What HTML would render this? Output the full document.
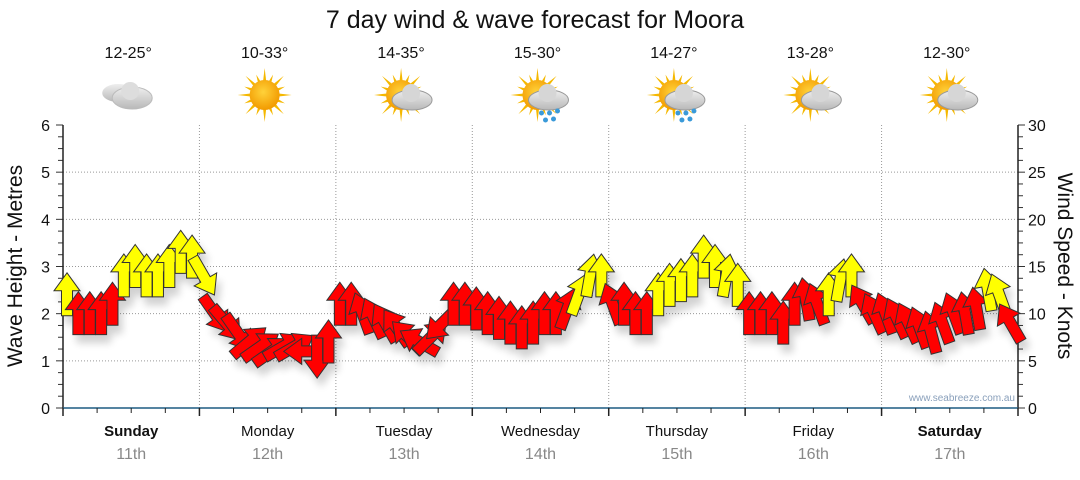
<!DOCTYPE html>
<html><head><meta charset="utf-8"><style>
body{margin:0;background:#fff;font-family:"Liberation Sans",sans-serif}
svg text{font-family:"Liberation Sans",sans-serif}
</style></head><body>
<svg id="chart" width="1080" height="475" xmlns="http://www.w3.org/2000/svg">
<defs>
<filter id="sh" x="-50%" y="-50%" width="200%" height="200%"><feGaussianBlur in="SourceAlpha" stdDeviation="4"/><feOffset dx="4" dy="8"/><feComponentTransfer><feFuncA type="linear" slope="0.18"/></feComponentTransfer><feMerge><feMergeNode/><feMergeNode in="SourceGraphic"/></feMerge></filter>
<radialGradient id="sun" cx="45%" cy="40%" r="60%"><stop offset="0" stop-color="#ffd23a"/><stop offset="1" stop-color="#f29a00"/></radialGradient>
<linearGradient id="cl" x1="0" y1="0" x2="0" y2="1"><stop offset="0" stop-color="#eee"/><stop offset="1" stop-color="#b8b8b8"/></linearGradient>
</defs>
<text x="535" y="28" font-size="25" text-anchor="middle" fill="#111">7 day wind &amp; wave forecast for Moora</text>
<g id="grid"></g><g id="axes"></g><g id="icons"></g><g id="marks" filter="url(#sh)"></g>
<text transform="translate(22,266) rotate(-90)" font-size="21" text-anchor="middle" fill="#111">Wave Height - Metres</text>
<text transform="translate(1058,266) rotate(90)" font-size="21" text-anchor="middle" fill="#111">Wind Speed - Knots</text>
<text x="1015" y="401" font-size="10" text-anchor="end" fill="#8aa0bb">www.seabreeze.com.au</text>
</svg>
<script>
const days=["Sunday","Monday","Tuesday","Wednesday","Thursday","Friday","Saturday"];
const dates=["11th","12th","13th","14th","15th","16th","17th"];
const temps=["12-25°","10-33°","14-35°","15-30°","14-27°","13-28°","12-30°"];
const icons=["cloud","sun","suncloud","rain","rain","suncloud","suncloud"];
const waveTicks=[0,1,2,3,4,5,6];
const windTicks=[0,5,10,15,20,25,30];
const windSpeed=[12,10,10,10,11,14,15,14,14,15,16.5,16,
 14,10,9,8,7,6.5,6,6.5,6.5,6,5.5,7,
 11,11,10,9.5,9,8.5,7.5,7,7.5,9,11,11,
 10.5,10,9.5,9,8.5,9,10,10,10.5,12,14,14,
 11,11,10,10,12,13,13.5,14,16,15,14,13,
 10,10,10,9,11,11.5,11,12,13.5,14,11,10,
 10,9.5,9,8.5,8,9,10,10,10.5,12.5,12,9];
const windDir=[0,0,0,0,0,0,0,0,0,0,0,0,
 150,145,140,145,50,55,55,60,60,-90,180,0,
 0,0,-20,-25,-30,-35,-45,-60,45,225,0,0,
 0,0,0,0,0,0,0,0,20,20,10,0,
 -20,0,0,0,0,0,0,0,0,0,10,0,
 0,0,0,0,0,-10,-20,0,10,0,-30,-25,
 -20,-25,-25,-20,-15,-20,-20,-10,-10,-10,-20,-30];
const NS="http://www.w3.org/2000/svg";
const X0=63,X1=1018,Y0=408,Y1=125;
const xs=i=>X0+(X1-X0)*i/84;
const yWave=v=>Y0-(Y0-Y1)*v/6;
const yWind=v=>Y0-(Y0-Y1)*v/30;
function el(t,a,p){const e=document.createElementNS(NS,t);for(const k in a)e.setAttribute(k,a[k]);p.appendChild(e);return e;}
const grid=document.getElementById('grid'),axes=document.getElementById('axes'),ic=document.getElementById('icons'),marks=document.getElementById('marks');
waveTicks.forEach(v=>{
 if(v>0&&v<6){const g=el('line',{x1:X0,x2:X1,y1:yWave(v),y2:yWave(v),stroke:'#999','stroke-dasharray':'1,2'},grid);
 
 }
 const t=el('text',{x:50,y:yWave(v)+6,'font-size':16,'text-anchor':'end',fill:'#111'},axes);t.textContent=v;
 
 
});
for(let q=0;q<=24;q++){const y=yWave(q/4);el('line',{x1:X0-(q%4?5:7),x2:X0,y1:y,y2:y,stroke:'#333'},axes);el('line',{x1:X1,x2:X1+(q%4?5:7),y1:y,y2:y,stroke:'#333'},axes);}
windTicks.forEach(v=>{const t=el('text',{x:1028,y:yWind(v)+6,'font-size':16,fill:'#111'},axes);t.textContent=v;
 
 });
el('line',{x1:X0,x2:X0,y1:Y1,y2:Y0,stroke:'#222','stroke-width':1.5},axes);
el('line',{x1:X1,x2:X1,y1:Y1,y2:Y0,stroke:'#222','stroke-width':1.5},axes);
el('line',{x1:X0,x2:X1,y1:Y0,y2:Y0,stroke:'#1d5b82','stroke-width':1.5},axes);
for(let d=0;d<=28;d++){const x=X0+(X1-X0)*d/28;el('line',{x1:x,x2:x,y1:Y0,y2:Y0+(d%4?5:8),stroke:'#222','stroke-width':d%4?1:1.5},axes);}
days.forEach((d,i)=>{
 const xc=X0+(X1-X0)*(i+0.5)/7;
 if(i>0){const x=X0+(X1-X0)*i/7;el('line',{x1:x,x2:x,y1:Y1,y2:Y0,stroke:'#999','stroke-dasharray':'1,2'},grid);}
 const t=el('text',{x:xc,y:436,'font-size':15,'text-anchor':'middle',fill:'#111','font-weight':(i==0||i==6)?'bold':'normal'},axes);t.textContent=d;
 
 
 const t2=el('text',{x:xc,y:459,'font-size':16,'text-anchor':'middle',fill:'#888'},axes);t2.textContent=dates[i];
 
 
 const t3=el('text',{x:xc-3,y:58,'font-size':16,'text-anchor':'middle',fill:'#111'},ic);t3.textContent=temps[i];
 
 
 const g=el('g',{transform:`translate(${xc-3},95)`},ic);
 
 
 const k=icons[i];
 if(k!='cloud'){for(let r=0;r<16;r++){const a=r*Math.PI/8,L=r%2?22:27;el('polygon',{points:`${Math.cos(a-0.15)*12},${Math.sin(a-0.15)*12} ${Math.cos(a)*L},${Math.sin(a)*L} ${Math.cos(a+0.15)*12},${Math.sin(a+0.15)*12}`,fill:'#f5b800'},g);}
  el('circle',{cx:0,cy:0,r:15,fill:'url(#sun)'},g);}
 if(k=='cloud'){el('ellipse',{cx:-10,cy:-2,rx:16,ry:9,fill:'url(#cl)'},g);el('ellipse',{cx:4,cy:3,rx:20,ry:11,fill:'url(#cl)',stroke:'#bbb'},g);el('circle',{cx:2,cy:-4,r:9,fill:'#ddd'},g);}
 if(k=='suncloud'||k=='rain'){el('ellipse',{cx:11,cy:5,rx:20,ry:10,fill:'url(#cl)',stroke:'#999'},g);el('circle',{cx:10,cy:-2,r:9,fill:'#d6d6d6'},g);}
 if(k=='rain'){[[4,18],[12,18],[20,16],[8,25],[16,24]].forEach(p=>el('circle',{cx:p[0],cy:p[1],r:2.5,fill:'#3a9ad9'},g));}
});
windSpeed.forEach((v,i)=>{
 const x=xs(i)+4,y=yWind(v);
 const col=v>=12?'#ffff00':'#ff0000';
 const p=el('polygon',{points:'0,-22 13,-4 5.5,-4 5.5,21 -5.5,21 -5.5,-4 -13,-4',fill:col,stroke:'#333','stroke-width':1,transform:`translate(${x},${y}) rotate(${windDir[i]})`},marks);
 
 
});
</script>
</body></html>
